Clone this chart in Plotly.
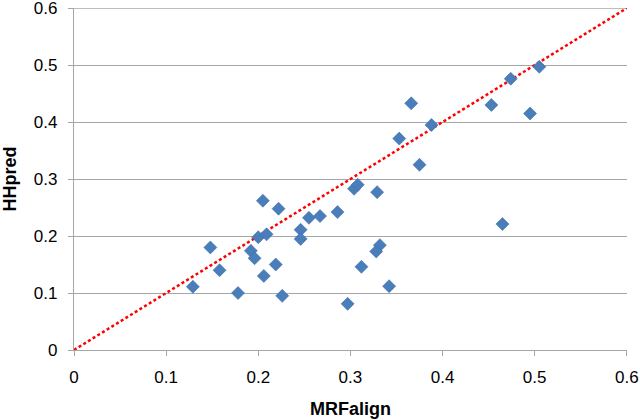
import plotly.graph_objects as go

mrfalign = [0.129, 0.148, 0.158, 0.178, 0.192, 0.196, 0.200, 0.205, 0.209, 0.206,
            0.222, 0.219, 0.226, 0.246, 0.246, 0.255, 0.267, 0.286, 0.304, 0.308,
            0.329, 0.332, 0.328, 0.312, 0.342, 0.297, 0.353, 0.366, 0.375, 0.388,
            0.453, 0.465, 0.474, 0.495, 0.505]
hhpred = [0.111, 0.180, 0.140, 0.100, 0.174, 0.161, 0.198, 0.262, 0.203, 0.130,
          0.248, 0.150, 0.095, 0.211, 0.195, 0.232, 0.235, 0.242, 0.283, 0.290,
          0.277, 0.184, 0.173, 0.146, 0.112, 0.081, 0.371, 0.433, 0.325, 0.395,
          0.430, 0.221, 0.476, 0.415, 0.497]
diag = [0, 0.6]
axis_max = 0.6
tick_step = 0.1

fig = go.Figure()
fig.add_trace(go.Scatter(x=diag, y=diag, mode="lines",
                         line=dict(color="#FF0000", width=2.5, dash="3px,2.5px"),
                         hoverinfo="skip", showlegend=False, cliponaxis=False))
fig.add_trace(go.Scatter(x=mrfalign, y=hhpred, mode="markers",
                         marker=dict(symbol="diamond", size=10, color="#4A7EBB",
                                     line=dict(width=0.6, color="#3F6FA8")),
                         showlegend=False))

font_family = "Liberation Sans, Arial, sans-serif"
grid_col = "#A6A6A6"
# top gridline at the axis maximum
fig.add_shape(type="line", xref="paper", yref="y", x0=0, x1=1, y0=axis_max, y1=axis_max,
              line=dict(color=grid_col, width=1.3), layer="below")
fig.update_layout(
    width=640, height=420,
    margin=dict(l=74, r=13, t=8, b=70),
    paper_bgcolor="white", plot_bgcolor="white",
    font=dict(family=font_family, size=17, color="black"),
    xaxis=dict(range=[0, axis_max + 0.0002], tickmode="linear", tick0=0, dtick=tick_step,
               automargin=False, ticklabeloverflow="allow", ticklabelstandoff=6,
               showgrid=False, zeroline=False, showline=True, linecolor=grid_col,
               linewidth=1.3, ticks="outside", ticklen=5, tickcolor=grid_col,
               tickwidth=1.3,
               title=dict(text="<b>MRFalign</b>", font=dict(size=18), standoff=16)),
    yaxis=dict(range=[0, axis_max + 0.0002], tickmode="linear", tick0=0, dtick=tick_step,
               automargin=False, ticklabeloverflow="allow", ticklabelstandoff=7,
               showgrid=True, gridcolor=grid_col, gridwidth=1.3, zeroline=False,
               showline=True, linecolor=grid_col, linewidth=1.3,
               ticks="outside", ticklen=5, tickcolor=grid_col, tickwidth=1.3,
               title=dict(text="<b>HHpred</b>", font=dict(size=18), standoff=14)),
)

fig.write_html("out.html", config={"displayModeBar": False},
               post_script="document.body.style.margin='0';document.body.style.overflow='hidden';")
